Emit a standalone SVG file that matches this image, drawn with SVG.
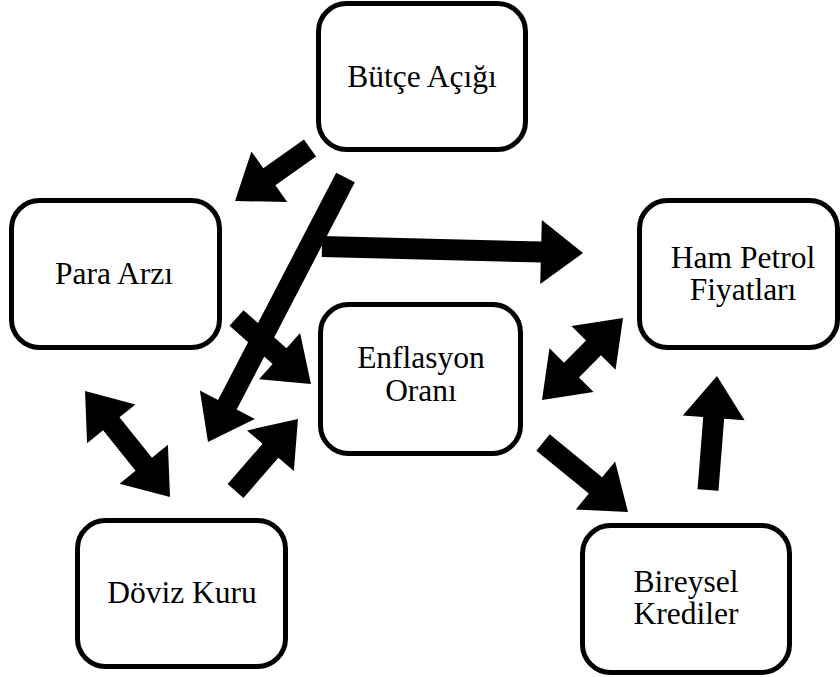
<svg xmlns="http://www.w3.org/2000/svg" width="840" height="677" viewBox="0 0 840 677">
<style>
.box{fill:#fff;stroke:#000;stroke-width:5}
.t{font-size:31.5px;fill:#000;text-anchor:middle}
.a{fill:#000;stroke:none}
</style>
<rect width="840" height="677" fill="#fff"/>
<g id="connectors">
<path class="a" transform="translate(310,148) rotate(144.75)" d="M0,-10.5 L49.8,-10.5 L49.8,-31 L91.8,0 L49.8,31 L49.8,10.5 L0,10.5 Z"/>
<path class="a" transform="translate(345.5,177.5) rotate(117.47)" d="M0,-10.5 L256.1,-10.5 L256.1,-31 L298.1,0 L256.1,31 L256.1,10.5 L0,10.5 Z"/>
<path class="a" transform="translate(322,246.5) rotate(1.43)" d="M0,-10.5 L219.1,-10.5 L219.1,-32 L261.1,0 L219.1,32 L219.1,10.5 L0,10.5 Z"/>
<path class="a" transform="translate(236.5,318) rotate(41.54)" d="M0,-10.5 L57.5,-10.5 L57.5,-31 L99.5,0 L57.5,31 L57.5,10.5 L0,10.5 Z"/>
<path class="a" transform="translate(85,391) rotate(51.28)" d="M0,0 L42,-31 L42,-10.5 L93.9,-10.5 L93.9,-31 L135.9,0 L93.9,31 L93.9,10.5 L42,10.5 L42,31 Z"/>
<path class="a" transform="translate(235.5,491) rotate(-49.04)" d="M0,-10.5 L53.3,-10.5 L53.3,-31 L95.3,0 L53.3,31 L53.3,10.5 L0,10.5 Z"/>
<path class="a" transform="translate(542,400) rotate(-45.35)" d="M0,0 L42,-31 L42,-10.5 L73.3,-10.5 L73.3,-31 L115.3,0 L73.3,31 L73.3,10.5 L42,10.5 L42,31 Z"/>
<path class="a" transform="translate(543,442.5) rotate(39.27)" d="M0,-10.5 L67.8,-10.5 L67.8,-31 L109.8,0 L67.8,31 L67.8,10.5 L0,10.5 Z"/>
<path class="a" transform="translate(708,490) rotate(-85.49)" d="M0,-10.5 L72.4,-10.5 L72.4,-31 L114.4,0 L72.4,31 L72.4,10.5 L0,10.5 Z"/>
</g>
<g id="butce">
<rect class="box" x="318.5" y="3.5" width="207" height="146" rx="28"/>
<text class="t" x="422" y="87" font-family="Liberation Serif, serif">Bütçe Açığı</text>
</g>
<g id="para">
<rect class="box" x="11.5" y="200.5" width="208" height="147" rx="28"/>
<text class="t" x="114" y="284" font-family="Liberation Serif, serif">Para Arzı</text>
</g>
<g id="enflasyon">
<rect class="box" x="320.5" y="304.5" width="200" height="149" rx="28"/>
<text class="t" x="421" y="368" font-family="Liberation Serif, serif">Enflasyon</text>
<text class="t" x="421" y="401" font-family="Liberation Serif, serif">Oranı</text>
</g>
<g id="petrol">
<rect class="box" x="639.5" y="200.5" width="198" height="147" rx="28"/>
<text class="t" x="743" y="268" font-family="Liberation Serif, serif">Ham Petrol</text>
<text class="t" x="743" y="300" font-family="Liberation Serif, serif">Fiyatları</text>
</g>
<g id="doviz">
<rect class="box" x="77.5" y="520.5" width="208" height="146" rx="28"/>
<text class="t" x="182" y="603" font-family="Liberation Serif, serif">Döviz Kuru</text>
</g>
<g id="bireysel">
<rect class="box" x="582.5" y="525.5" width="207" height="147" rx="28"/>
<text class="t" x="686" y="592" font-family="Liberation Serif, serif">Bireysel</text>
<text class="t" x="686" y="624" font-family="Liberation Serif, serif">Krediler</text>
</g>
</svg>
